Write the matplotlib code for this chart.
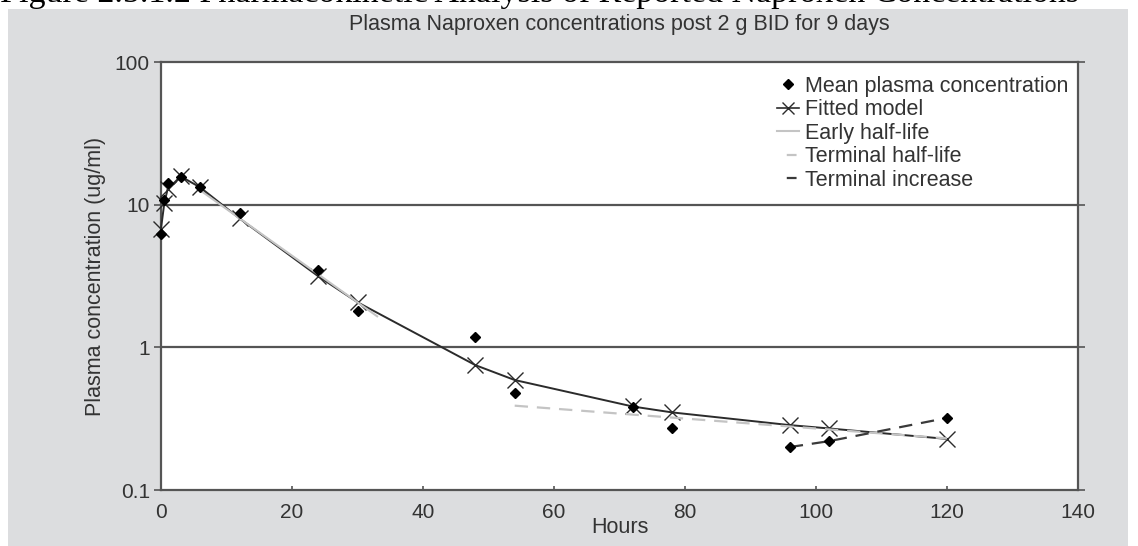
import matplotlib
matplotlib.use("Agg")
import matplotlib.pyplot as plt
from matplotlib import font_manager
from matplotlib.patches import Rectangle
from matplotlib.lines import Line2D

# Sampling times (hours) and concentrations (ug/ml)
hours = [0, 0.5, 1, 3, 6, 12, 24, 30, 48, 54, 72, 78, 96, 102, 120]
mean_conc = [6.2, 10.8, 14.2, 15.6, 13.4, 8.8, 3.5, 1.8, 1.19, 0.48, 0.38, 0.27, 0.20, 0.22, 0.32]
fitted_conc = [6.8, 10.2, 12.8, 15.8, 13.2, 8.0, 3.15, 2.07, 0.75, 0.59, 0.385, 0.35, 0.285, 0.27, 0.228]

# Half-life reference lines
early_hl_hours = [6, 33]
early_hl_conc = [12.6, 1.65]
terminal_hl_hours = [54, 120]
terminal_hl_conc = [0.39, 0.23]
terminal_inc_hours = [96, 102, 120]
terminal_inc_conc = [0.20, 0.22, 0.32]

x_ticks = [0, 20, 40, 60, 80, 100, 120, 140]
y_ticks = [0.1, 1, 10, 100]
y_tick_labels = ["0.1", "1", "10", "100"]

legend_labels = ["Mean plasma concentration", "Fitted model", "Early half-life",
                 "Terminal half-life", "Terminal increase"]

available = {f.name for f in font_manager.fontManager.ttflist}
narrow = "Liberation Sans Narrow" if "Liberation Sans Narrow" in available else "Liberation Sans"
scale = 1.2 if narrow == "Liberation Sans Narrow" else 1.0
text_size = 15.5 * scale
tick_size = 15 * scale
plt.rcParams["font.family"] = [narrow, "DejaVu Sans"]

W, H = 1138, 546
fig = plt.figure(figsize=(W / 100, H / 100), dpi=100, facecolor="white")

# grey panel behind the chart
fig.patches.append(Rectangle((8 / W, 0), 1120 / W, (H - 9) / H, transform=fig.transFigure,
                             facecolor="#dcdddf", edgecolor="none", zorder=-5))

# document caption above the panel
fig.text(0 / W, 1 - 2 / H, "Figure 2.5.1.2 Pharmacokinetic Analysis of Reported Naproxen Concentrations",
         family=["Liberation Serif", "DejaVu Serif"], fontsize=24.5, va="baseline", ha="left",
         color="black", zorder=-6)

ax = fig.add_axes([161 / W, 56 / H, (1078 - 161) / W, (490 - 62) / H])
ax.set_zorder(2)
ax.set_facecolor("white")
ax.set_yscale("log")
ax.set_xlim(0, 140)
ax.set_ylim(0.1, 100)

dark = "#2b2b2b"
light = "#c4c4c4"

ax.plot(hours, fitted_conc, color=dark, lw=1.4, marker="x", ms=11, mew=1.0, zorder=3,
        clip_on=False)
ax.plot(early_hl_hours, early_hl_conc, color=light, lw=1.5, zorder=4)
ax.plot(terminal_hl_hours, terminal_hl_conc, color=light, lw=1.6, ls=(0, (6, 4)), zorder=4)
ax.plot(terminal_inc_hours, terminal_inc_conc, color="#3a3a3a", lw=1.6, ls=(0, (6, 4)), zorder=4)
ax.plot(hours, mean_conc, ls="none", marker="D", ms=5, color="black", zorder=5, clip_on=False)

for v in [1, 10]:
    ax.axhline(v, color="#555555", lw=1.6, zorder=1)

for s in ax.spines.values():
    s.set_color("#555555")
    s.set_linewidth(1.6)

ax.set_xticks(x_ticks)
ax.set_yticks(y_ticks)
ax.set_yticklabels(y_tick_labels)
ax.minorticks_off()
ax.tick_params(axis="y", which="major", direction="out", length=5, width=1.2, color="#555555",
               labelsize=tick_size, pad=3, right=True)
ax.tick_params(axis="x", which="major", direction="in", length=3, width=1.2, color="#555555",
               labelsize=tick_size, pad=9)
for t in ax.get_xticklabels() + ax.get_yticklabels():
    t.set_color("#333333")

ax.set_xlabel("Hours", fontsize=text_size, color="#333333", labelpad=-3)
ax.set_ylabel("Plasma concentration (ug/ml)", fontsize=text_size, color="#333333", labelpad=6)
ax.set_title("Plasma Naproxen concentrations post 2 g BID for 9 days", fontsize=text_size,
             color="#333333", pad=23)

dash_one = (4.4, (4.4, 4.4))
handles = [
    Line2D([], [], ls="none", marker="D", ms=5, color="black"),
    Line2D([], [], color=dark, lw=1.2, marker="x", ms=9, mew=1.0),
    Line2D([], [], color=light, lw=1.5),
    Line2D([], [], color=light, lw=1.6, ls=dash_one),
    Line2D([], [], color="#3a3a3a", lw=1.6, ls=dash_one),
]
leg = ax.legend(handles, legend_labels, loc="upper left", bbox_to_anchor=(0.672, 0.968),
                frameon=False, fontsize=text_size, handlelength=1.0, handletextpad=0.3,
                labelspacing=0.12, borderpad=0, borderaxespad=0)
for t in leg.get_texts():
    t.set_color("#333333")

fig.savefig("out.png", dpi=100, facecolor="white")
